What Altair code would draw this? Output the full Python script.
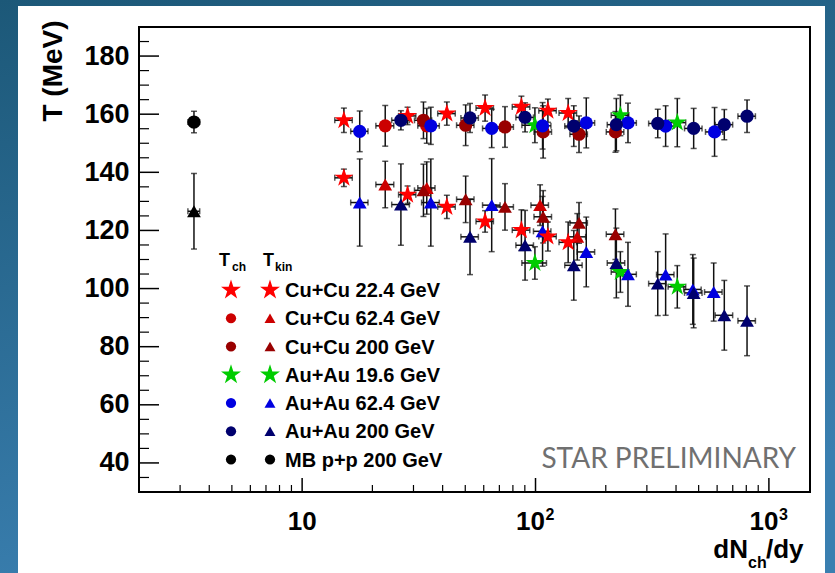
import altair as alt
import pandas as pd

# ---------------- data: freeze-out temperatures vs dNch/dy ----------------
# Cu+Cu 22.4 GeV (stars for both Tch and Tkin)
cu22_x = [15.1, 28.3, 41.7, 60.8, 87.0, 113.0, 138.0]
cu22_dx = [1.3, 2.4, 3.6, 5.2, 7.5, 9.7, 11.9]
cu22_tch = [157.9, 159.4, 160.2, 162.1, 162.5, 161.2, 160.4]
cu22_tch_e = [4.2, 3.0, 4.0, 4.5, 3.7, 4.0, 5.0]
cu22_tkin = [138.1, 132.3, 128.1, 123.1, 120.1, 117.9, 115.9]
cu22_tkin_e = [3.0, 3.0, 4.0, 3.7, 7.0, 5.0, 7.0]

# Cu+Cu 62.4 GeV
cu62_ch_x = [22.7, 34.2]
cu62_ch_dx = [2.0, 2.9]
cu62_tch = [156.0, 156.0]
cu62_tch_e = [7.0, 6.0]
cu62_kin_x = [22.7, 34.2, 104.6, 151.0]
cu62_kin_dx = [2.0, 2.9, 9.0, 13.0]
cu62_tkin = [135.8, 134.6, 128.7, 117.8]
cu62_tkin_e = [8.0, 9.0, 7.0, 8.0]

# Cu+Cu 200 GeV
cu200_x = [33.1, 50.2, 74.0, 107.8, 153.6, 220.0]
cu200_dx = [2.8, 4.3, 6.4, 9.3, 13.2, 19.0]
cu200_tch = [157.9, 156.2, 155.6, 153.9, 153.1, 153.9]
cu200_tch_e = [6.3, 7.0, 7.0, 9.0, 6.3, 7.0]
cu200_tkin = [133.8, 130.7, 128.1, 124.7, 122.6, 118.7]
cu200_tkin_e = [9.0, 8.0, 8.0, 9.0, 7.0, 8.7]

# Au+Au 19.6 GeV (stars)
au19_x = [99.4, 231.0, 405.0]
au19_dx = [12.0, 20.0, 35.0]
au19_tch = [156.2, 159.6, 157.1]
au19_tch_e = [6.0, 7.0, 8.3]
au19_tkin = [108.8, 105.7, 100.6]
au19_tkin_e = [5.6, 7.0, 7.3]

# Au+Au 62.4 GeV
au62_ch_x = [17.65, 35.6, 64.9, 107.2, 165.0, 249.0, 361.0, 585.0]
au62_ch_dx = [1.5, 3.1, 5.6, 9.2, 14.2, 21.4, 31.0, 50.0]
au62_tch = [154.1, 156.0, 155.1, 156.0, 157.0, 157.0, 155.9, 153.9]
au62_tch_e = [7.0, 6.4, 6.6, 8.0, 8.6, 6.8, 7.0, 8.4]
au62_kin_x = [17.65, 35.6, 64.9, 107.2, 165.0, 249.0, 361.0, 472.0, 580.0]
au62_kin_dx = [1.5, 3.1, 5.6, 9.2, 14.2, 21.4, 31.0, 40.6, 50.0]
au62_tkin = [129.6, 129.6, 128.7, 119.7, 112.6, 104.9, 104.8, 99.7, 98.8]
au62_tkin_e = [15.0, 15.0, 16.0, 12.0, 12.0, 11.0, 14.0, 12.0, 10.0]

# Au+Au 200 GeV
au200_x = [26.5, 52.4, 90.2, 145.9, 222.0, 334.0, 476.0, 644.0, 806.0]
au200_dx = [2.3, 4.5, 7.8, 12.5, 19.1, 28.7, 41.0, 55.4, 69.3]
au200_tch = [157.9, 158.7, 158.9, 155.9, 156.4, 156.8, 155.1, 156.4, 159.3]
au200_tch_e = [3.3, 5.0, 5.0, 7.0, 9.0, 4.9, 6.9, 5.2, 5.6]
au200_tkin = [128.9, 117.8, 114.9, 108.0, 108.8, 101.7, 98.5, 90.8, 88.9]
au200_tkin_e = [14.0, 13.0, 12.0, 12.0, 12.0, 11.0, 12.0, 12.0, 12.0]

# minimum-bias p+p 200 GeV
pp_x = [3.44]
pp_dx = [0.2]
pp_tch = [157.3]
pp_tch_e = [3.7]
pp_tkin = [126.6]
pp_tkin_e = [13.0]

legend_labels = ["Cu+Cu 22.4 GeV", "Cu+Cu 62.4 GeV", "Cu+Cu 200 GeV",
                 "Au+Au 19.6 GeV", "Au+Au 62.4 GeV", "Au+Au 200 GeV",
                 "MB p+p 200 GeV"]

y_major = [40, 60, 80, 100, 120, 140, 160, 180]
y_minor = [35, 45, 50, 55, 65, 70, 75, 85, 90, 95, 105, 110, 115, 125, 130,
           135, 145, 150, 155, 165, 170, 175, 185]
x_major = [10, 100, 1000]
x_minor = [3, 4, 5, 6, 7, 8, 9, 20, 30, 40, 50, 60, 70, 80, 90,
           200, 300, 400, 500, 600, 700, 800, 900]

# ---------------- styling ----------------
W, H = 671, 465
FONT = "Liberation Sans"
STAR = ("M0,-1L0.2245,-0.309L0.9511,-0.309L0.3633,0.118L0.5878,0.809L0,0.382"
        "L-0.5878,0.809L-0.3633,0.118L-0.9511,-0.309L-0.2245,-0.309Z")
RED, RED1, RED2 = "#ff0000", "#cc0000", "#990000"
GREEN, BLUE, NAVY, BLACK = "#00cc00", "#0000e0", "#00006e", "#000000"

SIZE = {"circle": 175, "triangle-up": 190, STAR: 390}


def rows(xs, dxs, ts, es, color, shape):
    return [dict(x=x, xlo=x - dx, xhi=x + dx, T=t, lo=t - e, hi=t + e,
                 color=color, shape=shape, size=SIZE[shape])
            for x, dx, t, e in zip(xs, dxs, ts, es)]


records = []
# chemical freeze-out
records += rows(au19_x, au19_dx, au19_tch, au19_tch_e, GREEN, STAR)
records += rows(cu22_x, cu22_dx, cu22_tch, cu22_tch_e, RED, STAR)
records += rows(cu62_ch_x, cu62_ch_dx, cu62_tch, cu62_tch_e, RED1, "circle")
records += rows(cu200_x, cu200_dx, cu200_tch, cu200_tch_e, RED2, "circle")
records += rows(au62_ch_x, au62_ch_dx, au62_tch, au62_tch_e, BLUE, "circle")
records += rows(au200_x, au200_dx, au200_tch, au200_tch_e, NAVY, "circle")
records += rows(pp_x, pp_dx, pp_tch, pp_tch_e, BLACK, "circle")
# kinetic freeze-out
records += rows(au19_x, au19_dx, au19_tkin, au19_tkin_e, GREEN, STAR)
records += rows(cu62_kin_x, cu62_kin_dx, cu62_tkin, cu62_tkin_e, RED1, "triangle-up")
records += rows(cu200_x, cu200_dx, cu200_tkin, cu200_tkin_e, RED2, "triangle-up")
records += rows(au62_kin_x, au62_kin_dx, au62_tkin, au62_tkin_e, BLUE, "triangle-up")
records += rows(au200_x, au200_dx, au200_tkin, au200_tkin_e, NAVY, "triangle-up")
records += rows(cu22_x, cu22_dx, cu22_tkin, cu22_tkin_e, RED, STAR)
records += rows(pp_x, pp_dx, pp_tkin, pp_tkin_e, BLACK, "triangle-up")
pts = pd.DataFrame(records)

xs = alt.Scale(type="log", domain=[2, 1500], nice=False)
ys = alt.Scale(domain=[30, 190], nice=False, zero=False)
one = pd.DataFrame({"k": [0]})

# ---------------- background slide and white panel ----------------
bg = alt.Chart(one).mark_rect(
    fill=alt.LinearGradient(gradient="linear", x1=0, y1=0, x2=0.3, y2=1,
                            stops=[alt.GradientStop(offset=0, color="#1c5878"),
                                   alt.GradientStop(offset=1, color="#3a7fb0")])
).encode(x=alt.value(-139), x2=alt.value(W + 25), y=alt.value(-27), y2=alt.value(H + 81))

panel = alt.Chart(one).mark_rect(fill="white").encode(
    x=alt.value(-121), x2=alt.value(686), y=alt.value(-21), y2=alt.value(H + 81))

frame = alt.Chart(one).mark_rect(fill="white", stroke="black", strokeWidth=2).encode(
    x=alt.value(0), x2=alt.value(W), y=alt.value(0), y2=alt.value(H))

# ---------------- axes: inward ticks ----------------
yaxis = alt.Axis(values=y_major, grid=False, domain=False, ticks=False, tickSize=0,
                 labelFont=FONT, labelFontSize=27, labelFontWeight="bold",
                 labelColor="black", labelPadding=10, title=None, zindex=2)
ytick_major = alt.Chart(pd.DataFrame({"v": y_major})).mark_rule(color="black", strokeWidth=1.5).encode(
    y=alt.Y("v:Q", scale=ys, axis=yaxis), x=alt.value(0), x2=alt.value(20))
ytick_minor = alt.Chart(pd.DataFrame({"v": y_minor})).mark_rule(color="black", strokeWidth=1.2).encode(
    y=alt.Y("v:Q", scale=ys, axis=yaxis), x=alt.value(0), x2=alt.value(10))
xtick_major = alt.Chart(pd.DataFrame({"v": x_major})).mark_rule(color="black", strokeWidth=1.5).encode(
    x=alt.X("v:Q", scale=xs, axis=None), y=alt.value(H), y2=alt.value(H - 14))
xtick_minor = alt.Chart(pd.DataFrame({"v": x_minor})).mark_rule(color="black", strokeWidth=1.2).encode(
    x=alt.X("v:Q", scale=xs, axis=None), y=alt.value(H), y2=alt.value(H - 7))

xl = pd.DataFrame({"v": x_major, "base": ["10", "10", "10"], "sup": ["", "2", "3"]})
xlab_10 = alt.Chart(xl).transform_filter("datum.v == 10").mark_text(
    font=FONT, fontSize=26, fontWeight="bold", align="center", baseline="alphabetic",
    color="black").encode(x=alt.X("v:Q", scale=xs, axis=None), y=alt.value(H + 38), text="base:N")
xlab_pow = alt.Chart(xl).transform_filter("datum.v > 10").mark_text(
    font=FONT, fontSize=26, fontWeight="bold", align="center", baseline="alphabetic",
    color="black", dx=-5).encode(x=alt.X("v:Q", scale=xs, axis=None), y=alt.value(H + 38), text="base:N")
xlab_sup = alt.Chart(xl).transform_filter("datum.v > 10").mark_text(
    font=FONT, fontSize=16, fontWeight="bold", align="left", baseline="alphabetic",
    color="black", dx=10).encode(x=alt.X("v:Q", scale=xs, axis=None), y=alt.value(H + 28), text="sup:N")

# ---------------- error bars and markers ----------------
base = alt.Chart(pts)
EC = "#111111"
ebar_y = base.mark_rule(color=EC, strokeWidth=1.5).encode(
    x=alt.X("x:Q", scale=xs, axis=None), y=alt.Y("lo:Q", scale=ys, axis=yaxis), y2="hi:Q")
ebar_x = base.mark_rule(color=EC, strokeWidth=1.5).encode(
    x=alt.X("xlo:Q", scale=xs, axis=None), x2="xhi:Q", y=alt.Y("T:Q", scale=ys, axis=yaxis))
cap_lo = base.mark_tick(orient="horizontal", size=6, thickness=1.5, color=EC).encode(
    x=alt.X("x:Q", scale=xs, axis=None), y=alt.Y("lo:Q", scale=ys, axis=yaxis))
cap_hi = base.mark_tick(orient="horizontal", size=6, thickness=1.5, color=EC).encode(
    x=alt.X("x:Q", scale=xs, axis=None), y=alt.Y("hi:Q", scale=ys, axis=yaxis))
cap_l = base.mark_tick(orient="vertical", size=6, thickness=1.5, color=EC).encode(
    x=alt.X("xlo:Q", scale=xs, axis=None), y=alt.Y("T:Q", scale=ys, axis=yaxis))
cap_r = base.mark_tick(orient="vertical", size=6, thickness=1.5, color=EC).encode(
    x=alt.X("xhi:Q", scale=xs, axis=None), y=alt.Y("T:Q", scale=ys, axis=yaxis))
markers = base.mark_point(filled=True, opacity=1, strokeWidth=0).encode(
    x=alt.X("x:Q", scale=xs, axis=None), y=alt.Y("T:Q", scale=ys, axis=yaxis),
    color=alt.Color("color:N", scale=None),
    shape=alt.Shape("shape:N", scale=None),
    size=alt.Size("size:Q", scale=None))

main = alt.layer(ytick_major, ytick_minor, xtick_major, xtick_minor,
                 xlab_10, xlab_pow, xlab_sup,
                 ebar_y, ebar_x, cap_lo, cap_hi, cap_l, cap_r, markers)

# ---------------- legend ----------------
leg = pd.DataFrame({
    "row": list(range(7)),
    "label": legend_labels,
    "color": [RED, RED1, RED2, GREEN, BLUE, NAVY, BLACK],
    "ch_shape": [STAR, "circle", "circle", STAR, "circle", "circle", "circle"],
    "kin_shape": [STAR, "triangle-up", "triangle-up", STAR, "triangle-up", "triangle-up", "circle"],
})
leg["ch_size"] = [440 if s == STAR else 105 for s in leg["ch_shape"]]
leg["kin_size"] = [440 if s == STAR else (105 if s == "circle" else 120) for s in leg["kin_shape"]]
ly = alt.Y("row:Q", scale=alt.Scale(domain=[0, 6], range=[263, 432.5]), axis=None)
lbase = alt.Chart(leg)
leg_ch = lbase.mark_point(filled=True, opacity=1, strokeWidth=0).encode(
    x=alt.value(92), y=ly, color=alt.Color("color:N", scale=None),
    shape=alt.Shape("ch_shape:N", scale=None), size=alt.Size("ch_size:Q", scale=None))
leg_kin = lbase.mark_point(filled=True, opacity=1, strokeWidth=0).encode(
    x=alt.value(131), y=ly, color=alt.Color("color:N", scale=None),
    shape=alt.Shape("kin_shape:N", scale=None), size=alt.Size("kin_size:Q", scale=None))
leg_txt = lbase.mark_text(font=FONT, fontSize=20, fontWeight="bold", align="left",
                          baseline="middle", color="black", dy=1).encode(
    x=alt.value(146), y=ly, text="label:N")
legend = alt.layer(leg_ch, leg_kin, leg_txt)


# ---------------- free text ----------------
def label(txt, x, y, size, weight="bold", align="left", baseline="alphabetic",
          angle=0, color="black", font=FONT):
    return alt.Chart(one).mark_text(
        text=txt, font=font, fontSize=size, fontWeight=weight, align=align,
        baseline=baseline, angle=angle, color=color).encode(x=alt.value(x), y=alt.value(y))


texts = [
    label("T", 80, 239, 18), label("ch", 93, 244, 12),
    label("T", 124, 239, 18), label("kin", 136, 244, 12),
    label("T (MeV)", -85, 44, 28, align="center", baseline="middle", angle=270),
    label("dN", 609, 531, 26, align="right"), label("ch", 609, 541, 16),
    label("/dy", 627, 531, 26),
    label("STAR PRELIMINARY", 657, 441, 28, weight="normal", align="right",
          color="#707070", font="Lato"),
]

chart = alt.layer(bg, panel, frame, main, legend, *texts).resolve_scale(
    y="independent"
).properties(
    width=W, height=H,
    autosize=alt.AutoSizeParams(type="none"),
    padding={"left": 139, "top": 27, "right": 25, "bottom": 81},
    background="#2a6b95",
).configure_view(stroke=None)

chart.save("out.html", embed_options={"renderer": "svg", "actions": False})
